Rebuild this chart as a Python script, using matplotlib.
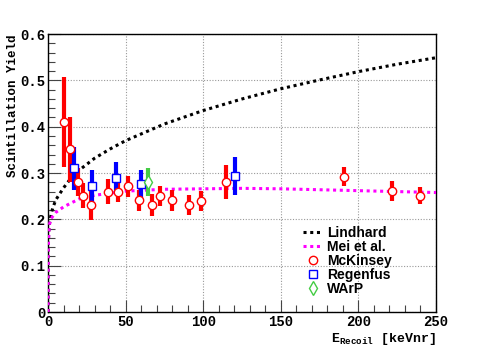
import numpy as np
import matplotlib
matplotlib.use("Agg")
import matplotlib.pyplot as plt
from matplotlib.lines import Line2D
from matplotlib.ticker import MultipleLocator, FuncFormatter

# McKinsey points (red circles)
mck_e = [10.3, 14.2, 19.3, 22.3, 27.9, 38.7, 45.3, 51.7, 58.8, 67.0, 72.4, 79.7, 91.0, 98.7, 114.5, 190.7, 221.4, 239.9]
mck_y = [0.41, 0.351, 0.281, 0.251, 0.231, 0.26, 0.26, 0.271, 0.241, 0.231, 0.251, 0.241, 0.231, 0.24, 0.281, 0.292, 0.261, 0.251]
mck_err = [0.097, 0.07, 0.03, 0.027, 0.033, 0.027, 0.023, 0.022, 0.022, 0.023, 0.022, 0.022, 0.022, 0.022, 0.037, 0.021, 0.022, 0.018]

# Regenfus points (blue squares)
reg_e = [16.8, 28.5, 44.0, 60.1, 120.5]
reg_y = [0.31, 0.271, 0.29, 0.276, 0.294]
reg_err = [0.046, 0.036, 0.033, 0.031, 0.041]

# WArP point (green diamond)
warp_e = [64.6]
warp_y = [0.281]
warp_err = [0.03]

# Lindhard curve
lin_e = [0, 0.001, 0.01, 0.1, 0.5, 1, 2, 3, 5, 10, 15, 20, 30, 40, 50, 75, 100, 125, 150, 175, 200, 225, 250]
lin_y = [0, 0.075, 0.103, 0.140, 0.174, 0.192, 0.211, 0.224, 0.242, 0.268, 0.290, 0.306, 0.332, 0.352, 0.370,
         0.406, 0.435, 0.460, 0.482, 0.501, 0.519, 0.535, 0.549]

# Mei et al. curve
mei_e = [0, 0.1, 0.5, 1, 2, 5, 10, 20, 30, 50, 75, 100, 125, 150, 175, 200, 225, 250]
mei_y = [0, 0.13, 0.17, 0.19, 0.202, 0.215, 0.227, 0.244, 0.252, 0.261, 0.265, 0.266, 0.267, 0.266, 0.264, 0.262, 0.260, 0.258]

mono = "Liberation Mono"
sans = "Liberation Sans"
green = "#44cc44"

fig = plt.figure(figsize=(4.85, 3.48), dpi=100)
ax = fig.add_axes([0.099, 0.1034, 0.8, 0.7986])

l1, = ax.plot(lin_e, lin_y, color="black", ls=(0, (1, 1.2)), lw=2.2, zorder=3)
l2, = ax.plot(mei_e, mei_y, color="magenta", ls=(0, (1, 1.2)), lw=2.2, zorder=3)

ax.errorbar(mck_e, mck_y, yerr=mck_err, fmt="o", color="red", ecolor="red", elinewidth=3,
            ms=6, mfc="white", mec="red", mew=1, capsize=0, zorder=4)
ax.errorbar(reg_e, reg_y, yerr=reg_err, fmt="s", color="blue", ecolor="blue", elinewidth=3,
            ms=6, mfc="white", mec="blue", mew=1, capsize=0, zorder=4)
ax.errorbar(warp_e, warp_y, yerr=warp_err, fmt="d", color=green, ecolor=green, elinewidth=3,
            ms=7, mfc="white", mec=green, mew=1, capsize=0, zorder=4)

ax.set_xlim(0, 250)
ax.set_ylim(0, 0.6)
ax.xaxis.set_major_locator(MultipleLocator(50))
ax.xaxis.set_minor_locator(MultipleLocator(10))
ax.yaxis.set_major_locator(MultipleLocator(0.1))
ax.yaxis.set_minor_locator(MultipleLocator(0.02))
ax.yaxis.set_major_formatter(FuncFormatter(lambda v, p: "0" if abs(v) < 1e-9 else "%.1f" % v))
ax.tick_params(which="both", direction="in", top=False, right=False, width=0.8, color="#444444")
ax.tick_params(which="major", length=9)
ax.tick_params(which="minor", length=5)
for lab in ax.get_xticklabels() + ax.get_yticklabels():
    lab.set_fontfamily(mono)
    lab.set_fontweight("bold")
    lab.set_fontsize(10)
ax.tick_params(axis="x", pad=2)
ax.tick_params(axis="y", pad=2)
ax.grid(True, which="major", color="#999999", ls=(0, (1, 1.5)), lw=0.8)
for s in ax.spines.values():
    s.set_linewidth(1.0)

ax.set_ylabel("Scintillation Yield", fontfamily=mono, fontweight="bold", fontsize=9)
ax.yaxis.set_label_coords(-0.074, 1.0)
ax.yaxis.label.set_ha("right")
ax.set_xlabel(r"E$_{\mathregular{Recoil}}$ [keVnr]", fontfamily=mono, fontweight="bold", fontsize=9.5)
ax.xaxis.set_label_coords(1.0, -0.07)
ax.xaxis.label.set_ha("right")

handles = [
    l1, l2,
    Line2D([], [], ls="none", marker="o", ms=6, mfc="white", mec="red", mew=1),
    Line2D([], [], ls="none", marker="s", ms=6, mfc="white", mec="blue", mew=1),
    Line2D([], [], ls="none", marker="d", ms=7, mfc="white", mec=green, mew=1),
]
labels = ["Lindhard", "Mei et al.", "McKinsey", "Regenfus", "WArP"]
leg = ax.legend(handles, labels, loc="upper left", bbox_to_anchor=(0.657, 0.31), frameon=False,
                prop={"family": sans, "weight": "bold", "size": 10},
                handlelength=1.4, handletextpad=0.36, labelspacing=0.0, borderpad=0,
                borderaxespad=0)

fig.savefig("out.png", dpi=100)
